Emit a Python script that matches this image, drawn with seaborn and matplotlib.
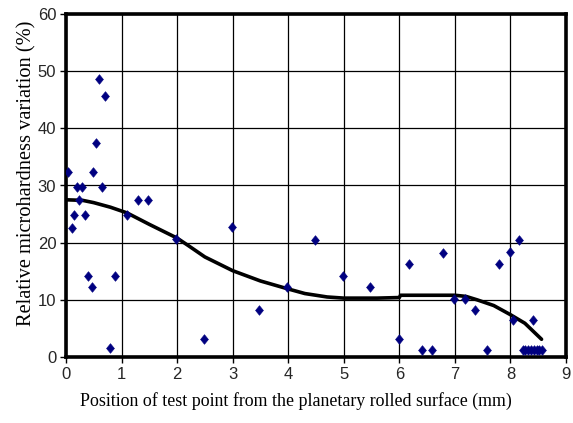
import matplotlib
matplotlib.use("Agg")
import matplotlib.pyplot as plt
import seaborn as sns
import pandas as pd
from matplotlib import font_manager

# measured points
pos_mm = [0.04, 0.10, 0.15, 0.19, 0.23, 0.29, 0.34, 0.40, 0.46, 0.49, 0.54, 0.59, 0.65, 0.71,
          0.80, 0.89, 1.10, 1.29, 1.48, 1.98, 2.48, 2.98, 3.48, 3.98, 4.49, 4.98, 5.48,
          5.99, 6.17, 6.40, 6.59, 6.79, 6.98, 7.18, 7.37, 7.58, 7.79, 7.99, 8.05, 8.15,
          8.22, 8.27, 8.32, 8.37, 8.40, 8.42, 8.47, 8.52, 8.57]
variation = [32.3, 22.6, 24.9, 29.7, 27.4, 29.7, 24.9, 14.2, 12.3, 32.3, 37.4, 48.6, 29.7, 45.7,
             1.5, 14.2, 24.9, 27.5, 27.5, 20.6, 3.1, 22.7, 8.2, 12.2, 20.5, 14.2, 12.3,
             3.1, 16.3, 1.3, 1.3, 18.2, 10.2, 10.2, 8.2, 1.3, 16.3, 18.3, 6.5, 20.5,
             1.3, 1.3, 1.3, 1.3, 6.5, 1.3, 1.3, 1.3, 1.3]

# trend line
trend_x = [0.0, 0.3, 0.5, 0.8, 1.1, 1.5, 2.0, 2.2, 2.5, 3.0, 3.5, 4.0, 4.3, 4.7, 5.0,
           5.6, 6.0, 6.02, 6.5, 7.0, 7.2, 7.4, 7.7, 8.0, 8.26, 8.56]
trend_y = [27.5, 27.4, 27.0, 26.2, 25.2, 23.2, 20.8, 19.5, 17.5, 15.1, 13.3, 11.9, 11.1, 10.5, 10.3,
           10.3, 10.4, 10.8, 10.8, 10.8, 10.6, 10.0, 9.0, 7.4, 5.9, 3.1]

x_ticks = list(range(0, 10))
y_ticks = list(range(0, 61, 10))

pts = pd.DataFrame({"x": pos_mm, "y": variation})
tr = pd.DataFrame({"x": trend_x, "y": trend_y})

sns.set_theme(style="white")
plt.rcParams["font.family"] = ["Liberation Serif", "DejaVu Serif"]

available = {f.name for f in font_manager.fontManager.ttflist}
if "Liberation Sans Narrow" in available:
    tick_family, tick_stretch = "Liberation Sans Narrow", "normal"
elif "DejaVu Sans Condensed" in available:
    tick_family, tick_stretch = "DejaVu Sans", "condensed"
else:
    tick_family, tick_stretch = "Liberation Sans", "normal"

tall_diamond = [(0, 1), (0.82, 0), (0, -1), (-0.82, 0), (0, 1)]

fig = plt.figure(figsize=(5.73, 4.23), dpi=100)
ax = fig.add_axes([66 / 573, 1 - 357 / 423, 500 / 573, 343 / 423])

sns.lineplot(data=tr, x="x", y="y", ax=ax, color="black", linewidth=2.6, zorder=2)
sns.scatterplot(data=pts, x="x", y="y", ax=ax, marker=tall_diamond, color="#000080",
                s=48, edgecolor="#000080", linewidth=0.4, zorder=3)

ax.set_xlim(0, 9)
ax.set_ylim(0, 60)
ax.set_xticks(x_ticks)
ax.set_yticks(y_ticks)
ax.grid(True, color="black", linewidth=0.9)
ax.set_axisbelow(True)
for s in ax.spines.values():
    s.set_color("black")
    s.set_linewidth(2.6)
ax.tick_params(axis="both", direction="out", length=4, width=1, color="black",
               labelsize=12, pad=3, bottom=True, left=True)
for lab in ax.get_xticklabels() + ax.get_yticklabels():
    lab.set_family(tick_family)
    lab.set_stretch(tick_stretch)

ax.set_xlabel("Position of test point from the planetary rolled surface (mm)",
              fontsize=12.9, color="black")
ax.set_ylabel("Relative microhardness variation (%)", fontsize=14.7, color="black")
ax.xaxis.set_label_coords(0.46, -0.103)
ax.yaxis.set_label_coords(-0.06, 0.535)

fig.savefig("out.png", dpi=100, facecolor="white")
